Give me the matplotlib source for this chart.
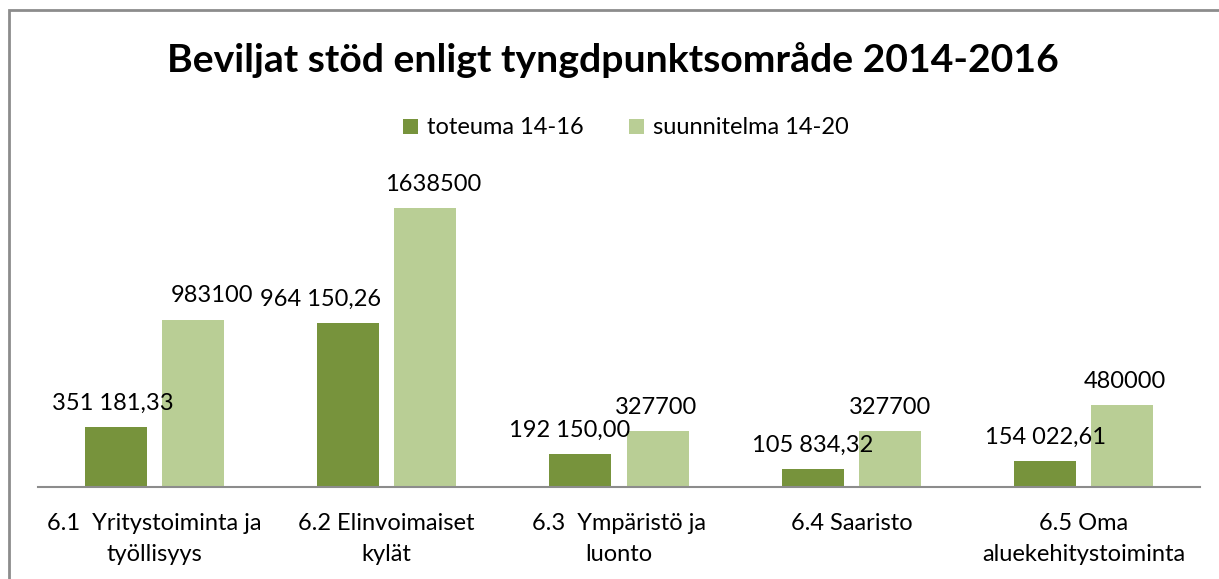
import matplotlib
matplotlib.use("Agg")
import matplotlib.pyplot as plt
from matplotlib.patches import Rectangle, Patch
import numpy as np

title = "Beviljat stöd enligt tyngdpunktsområde 2014-2016"
categories = ["6.1  Yritystoiminta ja\ntyöllisyys",
              "6.2 Elinvoimaiset\nkylät",
              "6.3  Ympäristö ja\nluonto",
              "6.4 Saaristo",
              "6.5 Oma\naluekehitystoiminta"]
series_names = ["toteuma 14-16", "suunnitelma 14-20"]
toteuma = [351181.33, 964150.26, 192150.00, 105834.32, 154022.61]
suunnitelma = [983100, 1638500, 327700, 327700, 480000]

dark = "#77933C"
light = "#B9CE95"
FONT = ["Lato", "DejaVu Sans"]
plt.rcParams['font.family'] = FONT
FS = 17

W, H = 1219, 579
fig = plt.figure(figsize=(W / 100, H / 100), dpi=100)
fig.patch.set_facecolor("white")

# outer border
fig.add_artist(Rectangle((9 / W, -0.1), 1.2, 1 - 10 / H + 0.1, transform=fig.transFigure,
                         fill=False, edgecolor="#8c8c8c", linewidth=2))

ax_left, ax_right = 38 / W, 1200 / W
ax_bottom = (H - 487) / H
ax_top = (H - 180) / H
ax = fig.add_axes([ax_left, ax_bottom, ax_right - ax_left, ax_top - ax_bottom])

x = np.arange(len(categories))
bw = 0.267
off = 0.166
ax.bar(x - off, toteuma, width=bw, color=dark, zorder=2)
ax.bar(x + off, suunnitelma, width=bw, color=light, zorder=2)

ax.set_xlim(-0.5, len(categories) - 0.5)
ax.set_ylim(0, 1638500 * 307 / 279)

for s in ["top", "right", "left"]:
    ax.spines[s].set_visible(False)
ax.spines["bottom"].set_color("#8c8c8c")
ax.spines["bottom"].set_linewidth(1.5)
ax.set_yticks([])
ax.set_xticks(x)
ax.set_xticklabels(categories, fontsize=FS, linespacing=1.55, color="black")
ax.tick_params(axis="x", length=0, pad=19)

def fmt_fi(v):
    return f"{v:,.2f}".replace(",", " ").replace(".", ",")

dark_nudge = [-2, -20, -8, 0, 0]
light_nudge = [14, 6, -1, 0, 2]
for i, v in enumerate(toteuma):
    ax.annotate(fmt_fi(v), (x[i] - off, v), xytext=(dark_nudge[i], 17),
                textcoords="offset points", ha="center", va="center", fontsize=FS)
for i, v in enumerate(suunnitelma):
    ax.annotate(f"{v:d}", (x[i] + off, v), xytext=(light_nudge[i], 17),
                textcoords="offset points", ha="center", va="center", fontsize=FS)

fig.text(613 / W, 1 - 60 / H, title, ha="center", va="center",
         fontsize=28.2, fontweight="bold")

handles = [Patch(facecolor=dark), Patch(facecolor=light)]
fig.legend(handles, series_names, loc="center", bbox_to_anchor=(626 / W, 1 - 128 / H),
           ncol=2, frameon=False, fontsize=FS, handlelength=0.62, handleheight=0.62,
           handletextpad=0.4, columnspacing=1.9)

fig.savefig("out.png", dpi=100)
